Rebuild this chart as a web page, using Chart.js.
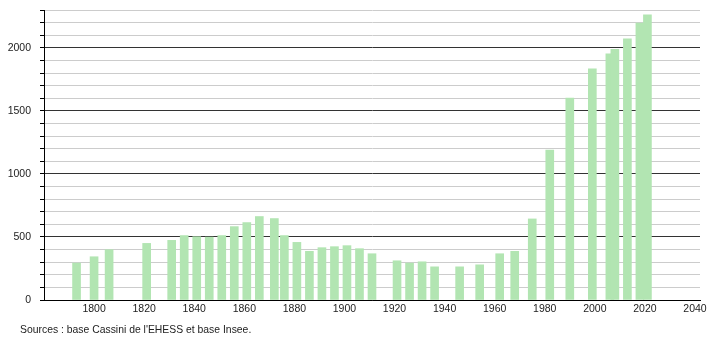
<!DOCTYPE html>
<html>
<head>
<meta charset="utf-8">
<script src="https://cdn.jsdelivr.net/npm/chart.js@4"></script>
<style>
  body { margin: 0; background: #fff; }
  #wrap { position: relative; width: 710px; height: 340px; }
  #source { position: absolute; left: 20px; top: 324px; font: 10.4px "Liberation Sans", Arial, sans-serif; color: #222; white-space: nowrap; }
</style>
</head>
<body>
<div id="wrap">
  <canvas id="graph" width="710" height="340"></canvas>
  <div id="source">Sources : base Cassini de l'EHESS et base Insee.</div>
</div>
<script>
// années des recensements et population
const years = [1793, 1800, 1806, 1821, 1831, 1836, 1841, 1846, 1851, 1856, 1861, 1866, 1872,
  1876, 1881, 1886, 1891, 1896, 1901, 1906, 1911, 1921, 1926, 1931, 1936, 1946, 1954,
  1962, 1968, 1975, 1982, 1990, 1999, 2006, 2008, 2013, 2018, 2021];
const population = [293, 343, 399, 449, 473, 511, 502, 499, 511, 582, 614, 662, 646,
  511, 457, 386, 415, 423, 431, 407, 367, 311, 293, 303, 263, 263, 279,
  367, 386, 643, 1190, 1601, 1833, 1952, 1989, 2071, 2196, 2262];
const xTicks = [1800, 1820, 1840, 1860, 1880, 1900, 1920, 1940, 1960, 1980, 2000, 2020, 2040];
const yLabels = [0, 500, 1000, 1500, 2000];

const font = { family: '"Liberation Sans", Arial, sans-serif', size: 10.5 };

new Chart(document.getElementById('graph'), {
  type: 'bar',
  data: {
    datasets: [{
      data: years.map((y, i) => ({ x: y, y: population[i] })),
      backgroundColor: 'rgb(178,229,178)',
      barThickness: 8
    }]
  },
  options: {
    responsive: false,
    animation: false,
    layout: { padding: { top: 10, right: 10, left: 0, bottom: 0 } },
    plugins: { legend: { display: false }, tooltip: { enabled: false } },
    scales: {
      x: {
        type: 'linear',
        offset: false,
        min: 1780,
        max: 2042,
        afterBuildTicks: s => { s.ticks = xTicks.map(v => ({ value: v })); },
        afterFit: s => { s.height = 40; },
        ticks: { autoSkip: false, maxRotation: 0, padding: 3, font, color: '#222', callback: v => v },
        grid: { display: false, drawTicks: false },
        border: { color: '#000' }
      },
      y: {
        min: 0,
        max: 2300,
        // largeur fixe et pas de marge haute ajoutée par les libellés
        afterFit: s => { s.width = 44; s.paddingTop = 0; s.paddingBottom = 0; },
        ticks: {
          stepSize: 100, autoSkip: false, padding: 9, font, color: '#222',
          callback: v => yLabels.includes(v) ? v : ''
        },
        grid: {
          color: c => c.tick && c.tick.value % 500 === 0 ? '#333' : '#ccc',
          tickColor: '#000',
          tickLength: 4
        },
        border: { color: '#000' }
      }
    }
  }
});
</script>
</body>
</html>
